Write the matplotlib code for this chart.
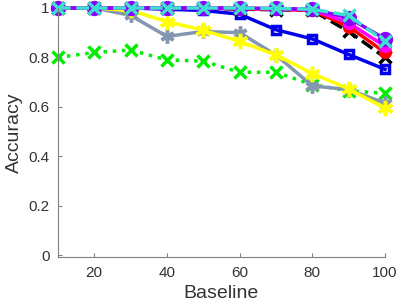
import numpy as np
import matplotlib.pyplot as plt

plt.rcParams['font.family'] = ['Liberation Sans', 'DejaVu Sans']

baseline = [10, 20, 30, 40, 50, 60, 70, 80, 90, 100]

acc_green = [0.80, 0.82, 0.83, 0.79, 0.785, 0.74, 0.74, 0.69, 0.665, 0.655]
acc_gray = [1.0, 1.0, 0.97, 0.885, 0.905, 0.90, 0.81, 0.685, 0.67, 0.615]
acc_yellow = [1.0, 1.0, 0.99, 0.945, 0.91, 0.865, 0.81, 0.735, 0.673, 0.595]
acc_blue = [1.0, 1.0, 1.0, 0.995, 0.99, 0.975, 0.912, 0.875, 0.812, 0.752]
acc_black = [1.0, 1.0, 1.0, 1.0, 1.0, 0.995, 0.993, 0.99, 0.905, 0.80]
acc_red = [1.0, 1.0, 1.0, 1.0, 1.0, 0.997, 0.995, 0.99, 0.925, 0.82]
acc_magenta = [1.0, 1.0, 1.0, 1.0, 1.0, 0.998, 0.996, 0.992, 0.94, 0.845]
acc_purple = [1.0, 1.0, 1.0, 1.0, 1.0, 1.0, 0.998, 0.995, 0.96, 0.875]
acc_cyan = [1.0, 1.0, 1.0, 1.0, 1.0, 1.0, 0.998, 0.995, 0.97, 0.865]

asterisk = (6, 2, 0)

fig = plt.figure(figsize=(3.99, 3.07), dpi=100)
ax = fig.add_axes([0.145, 0.162, 0.82, 0.812])

# (values, color, linestyle, marker, size, extra kwargs)
series = [
    (acc_green, '#00ee00', ':', 'x', 8, {}),
    (acc_gray, '#8497b0', '-', asterisk, 10, {}),
    (acc_yellow, '#ffff00', '-', asterisk, 11, {}),
    (acc_blue, '#0000ee', '-', 's', 6, {'mfc': 'none'}),
    (acc_black, 'black', '--', 'x', 8, {}),
    (acc_red, '#ff0000', '-', 'o', 7, {}),
    (acc_magenta, '#ff00ff', '-', 'o', 7, {}),
    (acc_purple, '#8a00ff', '-', 'o', 8.5, {}),
    (acc_cyan, '#40e0d0', '--', 'x', 8.5, {}),
]
for vals, col, ls, mk, ms, kw in series:
    ax.plot(baseline, vals, color=col, ls=ls, lw=2.5, marker=mk, ms=ms,
            mew=2.5, clip_on=False, **kw)

ax.set_xlim(10, 100)
ax.set_ylim(-0.008, 1.0)
ax.set_xticks([20, 40, 60, 80, 100])
ax.set_yticks([0, 0.2, 0.4, 0.6, 0.8, 1])
ax.set_yticklabels(['0', '0.2', '0.4', '0.6', '0.8', '1'])

for side in ['top', 'right']:
    ax.spines[side].set_visible(False)
for side in ['left', 'bottom']:
    ax.spines[side].set_color('#808080')
ax.tick_params(labelcolor='#333333', labelsize=11, direction='in', length=3,
               width=0.8, color='#808080', pad=6)

ax.set_xlabel('Baseline', fontsize=14, color='#333333', labelpad=4)
ax.set_ylabel('Accuracy', fontsize=14, color='#333333', labelpad=4)

fig.savefig('out.png', dpi=100)
